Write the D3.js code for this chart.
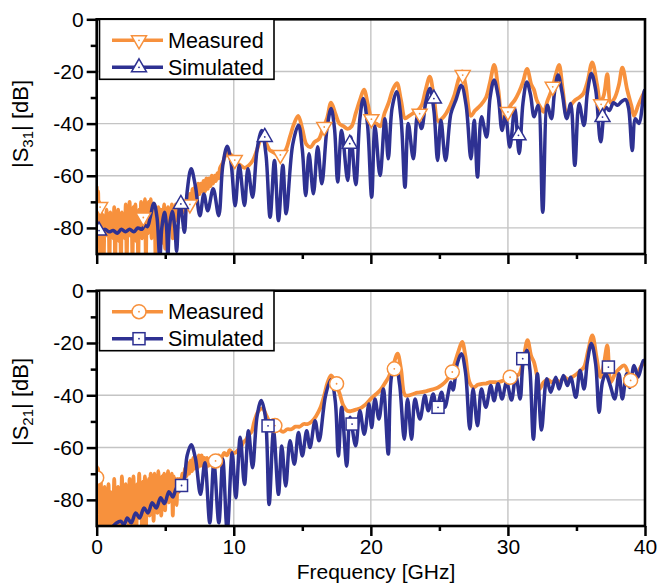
<!DOCTYPE html>
<html>
<head>
<meta charset="utf-8">
<script src="https://cdn.jsdelivr.net/npm/d3@7"></script>
<style>
  body { margin: 0; background: #fff; }
  svg text { font-family: "Liberation Sans", Arial, sans-serif; fill: #000; }
</style>
</head>
<body>
<div id="chart"></div>
<script>
// values: [frequency GHz, dB]
const s31Measured = [
  [0, -64], [0.05, -70], [0.1, -66], [0.15, -78], [0.2, -70], [0.25, -92], [0.3, -73], [0.37, -82], [0.44, -75], [0.51, -92],
  [0.58, -76], [0.65, -83], [0.72, -73], [0.79, -81], [0.86, -76], [0.93, -92], [1.0, -74], [1.07, -82], [1.14, -77], [1.21, -84],
  [1.28, -72], [1.35, -92], [1.42, -76], [1.49, -81], [1.56, -73], [1.63, -85], [1.7, -77], [1.77, -92], [1.84, -74], [1.91, -82],
  [1.98, -76], [2.05, -84], [2.12, -71], [2.19, -92], [2.26, -75], [2.33, -81], [2.4, -70], [2.47, -83], [2.54, -76], [2.61, -92],
  [2.68, -72], [2.75, -80], [2.82, -71], [2.89, -85], [2.96, -76], [3.03, -92], [3.1, -73], [3.17, -81], [3.24, -70], [3.31, -84],
  [3.38, -75], [3.45, -79], [3.52, -69], [3.59, -92], [3.66, -72], [3.73, -82], [3.8, -70], [3.87, -79], [3.94, -69], [4.01, -84],
  [4.08, -73], [4.15, -78], [4.22, -71], [4.29, -90], [4.36, -74], [4.43, -80], [4.5, -72], [4.57, -79], [4.64, -73], [4.71, -86],
  [4.78, -73], [4.85, -79], [4.92, -71], [4.99, -88], [5.06, -75], [5.13, -79], [5.2, -72], [5.27, -78], [5.34, -73], [5.41, -78],
  [5.48, -71], [5.55, -84], [5.62, -73], [5.69, -78], [5.76, -71], [5.83, -77], [5.9, -72], [5.97, -76], [6.04, -71], [6.11, -75],
  [6.2, -72], [6.3, -74], [6.4, -71], [6.5, -73], [6.6, -68], [6.7, -72], [6.8, -67], [6.9, -70], [7.0, -65], [7.1, -69],
  [7.2, -64], [7.3, -68], [7.4, -63], [7.5, -67], [7.6, -63], [7.7, -66], [7.8, -62], [7.9, -66], [8.0, -61], [8.1, -65],
  [8.2, -61], [8.3, -64], [8.4, -60], [8.5, -63], [8.6, -60], [8.7, -62], [8.8, -59], [8.9, -61], [9.0, -57], [9.2, -55],
  [9.4, -52], [9.6, -51], [9.8, -52], [10.0, -53], [10.2, -55], [10.5, -56], [10.8, -57], [11.1, -56], [11.4, -54], [11.7, -50],
  [12.0, -46], [12.3, -47], [12.6, -50], [12.9, -51], [13.2, -52], [13.5, -52], [13.8, -50], [14.1, -45], [14.4, -40], [14.7, -37],
  [15.0, -42], [15.3, -48], [15.6, -49], [15.9, -47], [16.2, -46], [16.5, -42], [16.8, -38], [17.1, -32], [17.4, -36], [17.7, -40],
  [18.0, -41], [18.3, -42], [18.6, -41], [18.9, -36], [19.2, -31], [19.5, -27], [19.8, -33], [20.1, -39], [20.4, -40], [20.7, -41],
  [21.0, -36], [21.3, -32], [21.6, -27], [21.9, -24.5], [22.2, -31], [22.5, -38], [22.8, -37], [23.1, -36], [23.4, -35], [23.7, -33],
  [24.0, -27], [24.3, -22], [24.6, -30], [24.9, -39], [25.2, -38], [25.5, -36], [25.8, -33], [26.1, -29], [26.4, -23], [26.65, -20],
  [26.9, -25], [27.3, -37], [27.6, -35], [28.0, -33], [28.4, -30], [28.7, -24], [29.0, -17.5], [29.3, -27], [29.6, -38], [29.9, -36],
  [30.2, -33], [30.5, -31], [30.8, -28], [31.1, -24], [31.4, -19], [31.7, -25], [31.9, -27], [32.1, -31], [32.4, -34], [32.6, -35.5],
  [32.9, -31], [33.2, -27], [33.5, -21], [33.73, -17.5], [34.0, -27], [34.3, -37], [34.6, -33], [34.9, -31], [35.2, -30], [35.5, -28.5],
  [35.8, -24], [36.15, -16.5], [36.5, -25], [36.75, -32], [37.0, -29], [37.25, -21], [37.5, -32], [37.8, -30], [38.1, -25], [38.35, -18.5],
  [38.7, -27], [39.0, -33], [39.2, -37], [39.5, -33], [39.75, -30], [40, -27.5]
];

const s31Simulated = [
  [0, -81], [0.3, -81.5], [0.6, -80.5], [0.9, -81.5], [1.2, -81], [1.5, -82], [1.8, -80.5], [2.1, -81.5], [2.4, -80.5], [2.7, -81.5],
  [3.0, -80], [3.3, -80.5], [3.5, -79], [3.7, -79.5], [3.9, -76], [4.17, -70.5], [4.4, -76], [4.6, -92], [4.75, -80], [4.95, -74],
  [5.1, -80], [5.19, -92], [5.3, -80], [5.51, -73.6], [5.7, -80], [5.83, -89], [5.95, -78], [6.07, -71], [6.2, -74], [6.4, -81.7],
  [6.6, -66], [6.89, -57.3], [7.2, -64], [7.53, -75.3], [7.82, -67], [8.1, -73.4], [8.5, -65], [8.9, -75.3], [9.2, -56], [9.52, -48.7],
  [9.8, -55], [10.1, -71.5], [10.4, -56], [10.78, -71.4], [11.03, -57.3], [11.37, -68.2], [11.7, -50], [12.04, -42.6], [12.35, -52], [12.65, -75.9],
  [12.97, -54.1], [13.26, -77.2], [13.58, -56], [13.82, -74.6], [14.3, -48], [14.72, -40.6], [15.0, -50], [15.25, -67.6], [15.49, -51.6], [15.81, -66.9],
  [16.12, -48.9], [16.42, -63.1], [16.8, -42], [17.1, -34.2], [17.35, -42], [17.58, -62.4], [17.87, -42.6], [18.31, -61.8], [18.55, -45.1], [18.9, -63.4],
  [19.2, -38], [19.45, -30.4], [19.75, -40], [20.06, -68.2], [20.3, -41], [20.67, -59.9], [21.03, -38.1], [21.27, -53.5], [21.55, -34], [21.88, -27.8],
  [22.2, -38], [22.49, -64.4], [22.73, -40], [23.1, -53.5], [23.41, -36.8], [23.7, -41.9], [24.0, -32], [24.31, -26.5], [24.6, -35], [24.87, -54.1],
  [25.11, -38.7], [25.45, -54.1], [25.84, -36.2], [26.2, -31], [26.6, -25.3], [26.95, -33], [27.3, -53.5], [27.54, -38.7], [27.78, -60.5], [28.07, -37.4],
  [28.44, -45.1], [28.7, -30], [28.99, -23.3], [29.3, -30], [29.57, -42.6], [29.82, -36.8], [30.14, -49], [30.5, -34.2], [30.82, -51.5], [31.1, -32],
  [31.38, -24], [31.65, -29], [31.91, -37.4], [32.2, -33], [32.54, -74], [32.88, -33], [33.17, -38.1], [33.4, -28], [33.66, -21.4], [33.95, -28],
  [34.29, -38.1], [34.58, -32.3], [34.88, -56], [35.19, -32.3], [35.55, -40.7], [35.8, -28], [36.09, -20.8], [36.4, -27], [36.77, -47], [37.13, -33.6],
  [37.4, -35], [37.7, -32], [38.0, -33], [38.3, -31.5], [38.59, -30.8], [38.8, -34], [39.07, -50.3], [39.3, -38.1], [39.55, -40], [39.93, -27.9],
  [40, -27]
];

const s21Measured = [
  [0, -67], [0.05, -74], [0.1, -68], [0.15, -85], [0.2, -70], [0.25, -92], [0.3, -73], [0.37, -86], [0.44, -76], [0.51, -92],
  [0.58, -75], [0.65, -85], [0.72, -79], [0.79, -92], [0.86, -74], [0.93, -86], [1.0, -77], [1.07, -92], [1.14, -78], [1.21, -84],
  [1.28, -72], [1.35, -92], [1.42, -80], [1.49, -87], [1.56, -75], [1.63, -92], [1.7, -78], [1.77, -85], [1.84, -71], [1.91, -92],
  [1.98, -77], [2.05, -88], [2.12, -74], [2.19, -84], [2.26, -79], [2.33, -92], [2.4, -72], [2.47, -86], [2.54, -76], [2.61, -92],
  [2.68, -71], [2.75, -83], [2.82, -77], [2.89, -92], [2.96, -74], [3.03, -87], [3.1, -70], [3.17, -84], [3.24, -76], [3.31, -92],
  [3.38, -73], [3.45, -86], [3.52, -71], [3.59, -92], [3.66, -75], [3.73, -82], [3.8, -72], [3.87, -86], [3.94, -70], [4.01, -81],
  [4.08, -74], [4.15, -88], [4.22, -70], [4.29, -80], [4.36, -73], [4.43, -85], [4.5, -69], [4.57, -79], [4.64, -72], [4.71, -86],
  [4.78, -71], [4.85, -78], [4.92, -70], [4.99, -84], [5.06, -72], [5.13, -78], [5.2, -69], [5.27, -81], [5.34, -71], [5.41, -77],
  [5.48, -70], [5.55, -86], [5.62, -71], [5.69, -78], [5.76, -72], [5.83, -82], [5.9, -72], [5.97, -77], [6.05, -72], [6.15, -75],
  [6.25, -70], [6.35, -73], [6.45, -68], [6.55, -71], [6.65, -66], [6.75, -70], [6.85, -65], [6.95, -69], [7.05, -64], [7.15, -68],
  [7.25, -64], [7.35, -68], [7.45, -63], [7.55, -67], [7.65, -63], [7.75, -67], [7.85, -64], [7.95, -68], [8.05, -64], [8.15, -67],
  [8.3, -64], [8.5, -65], [8.7, -65], [8.9, -63], [9.1, -64], [9.3, -62], [9.5, -63], [9.7, -61], [9.9, -62], [10.1, -62],
  [10.3, -61], [10.5, -60], [10.7, -58], [10.9, -57], [11.1, -55], [11.3, -54], [11.5, -50], [11.8, -46], [12.1, -45], [12.4, -48],
  [12.7, -51], [13.0, -52], [13.3, -53], [13.6, -54], [13.9, -53], [14.2, -53], [14.5, -52], [14.8, -52], [15.1, -51], [15.4, -51],
  [15.7, -50], [16.0, -48], [16.3, -45], [16.6, -40], [16.85, -35], [17.1, -32.4], [17.4, -35], [17.7, -39], [18.0, -44], [18.3, -46],
  [18.6, -46], [18.9, -45.5], [19.2, -45], [19.5, -44], [19.8, -42.5], [20.1, -40.8], [20.4, -39.5], [20.7, -38], [21.0, -35.6], [21.3, -33],
  [21.6, -29], [21.95, -24.1], [22.2, -30], [22.5, -40], [22.8, -40], [23.1, -39.5], [23.4, -39], [23.7, -38.8], [24.0, -38.5], [24.3, -38],
  [24.6, -37.6], [24.9, -37], [25.2, -36], [25.5, -34.5], [25.8, -32], [26.1, -28], [26.4, -23], [26.66, -19.6], [26.9, -25], [27.2, -35],
  [27.5, -37], [27.8, -36], [28.1, -35.6], [28.4, -35.5], [28.7, -35], [29.0, -35], [29.3, -35], [29.6, -34.5], [29.9, -34], [30.2, -33.1],
  [30.5, -32.5], [30.8, -32], [31.1, -27], [31.43, -18.9], [31.7, -25], [31.9, -27.3], [32.1, -32], [32.3, -37.6], [32.6, -35], [32.9, -34],
  [33.2, -35], [33.5, -34], [33.8, -35], [34.1, -33], [34.4, -34], [34.7, -33], [35.0, -32], [35.3, -30.5], [35.55, -29.2], [35.85, -23],
  [36.16, -17.1], [36.45, -25], [36.75, -33], [37.0, -28], [37.25, -20.9], [37.5, -35], [37.8, -32], [38.1, -30], [38.5, -28.6], [38.8, -32],
  [39.0, -34.3], [39.3, -33], [39.6, -30], [39.93, -27.3], [40, -27]
];

const s21Simulated = [
  [0, -92], [1.0, -91], [1.4, -89], [1.75, -88.2], [2.0, -89.5], [2.23, -86.9], [2.52, -88.8], [2.84, -85], [3.13, -86.9], [3.45, -83.1],
  [3.74, -85], [4.05, -81.1], [4.35, -83.1], [4.66, -79.2], [4.95, -81.4], [5.27, -76.9], [5.56, -78.9], [5.83, -75.4], [6.05, -76.5], [6.36, -72.8],
  [6.6, -63], [6.89, -58.9], [7.2, -64], [7.57, -77.9], [7.89, -65.8], [8.25, -88.8], [8.55, -65.8], [8.91, -88.8], [9.2, -64.5], [9.52, -92],
  [9.88, -62], [10.15, -79.2], [10.47, -56.1], [10.78, -74.1], [11.07, -53.6], [11.37, -67.7], [11.7, -48], [12.0, -42], [12.3, -48], [12.58, -81.8],
  [12.9, -53.6], [13.26, -77.9], [13.5, -59.4], [13.79, -74.7], [14.1, -57.4], [14.42, -66.4], [14.72, -54.2], [15.0, -63.2], [15.32, -53.6], [15.56, -60],
  [15.93, -49.7], [16.22, -57.4], [16.7, -40], [17.1, -34.1], [17.4, -42], [17.63, -63.2], [17.87, -44.6], [18.24, -67.1], [18.48, -48.4], [18.89, -59.3],
  [19.2, -45.9], [19.52, -54.9], [19.86, -43.3], [20.06, -52.3], [20.3, -41.4], [20.59, -49.1], [20.91, -37.6], [21.27, -62.5], [21.5, -33], [21.81, -27.9],
  [22.1, -36], [22.44, -56.8], [22.68, -41.4], [22.97, -56.8], [23.22, -41.4], [23.58, -49.1], [23.94, -40.1], [24.19, -45.9], [24.55, -39.5], [24.8, -45.2],
  [25.16, -38.8], [25.4, -44.6], [25.84, -35], [26.0, -38], [26.3, -28], [26.6, -24.1], [26.9, -31], [27.22, -52.9], [27.46, -37.6], [27.78, -51.7],
  [28.07, -37.6], [28.39, -44.6], [28.75, -36.3], [28.99, -42.1], [29.28, -35.6], [29.57, -41.4], [29.9, -35], [30.26, -41.8], [30.57, -32.4], [30.89, -41.4],
  [31.1, -28], [31.38, -22.8], [31.6, -30], [31.86, -56.8], [32.15, -31.8], [32.45, -53.3], [32.83, -33.7], [33.12, -38.8], [33.49, -33.1], [33.73, -37.6],
  [34.05, -32.4], [34.34, -36.3], [34.58, -33.1], [34.95, -40.8], [35.26, -30.5], [35.55, -37.6], [35.8, -27], [36.09, -20.2], [36.4, -28], [36.65, -46.5],
  [36.89, -35], [37.13, -31.8], [37.45, -36], [37.79, -41.4], [38.1, -31.8], [38.35, -41.4], [38.66, -31.8], [38.9, -37], [39.2, -28.6], [39.5, -33],
  [39.88, -26.7], [40, -27]
];

// symbol positions
const s31MeasuredMarks = [[0.25, -72], [3.4, -76], [6.8, -71], [10.07, -54], [13.4, -52], [16.6, -41.3], [20.04, -38.3], [23.56, -36.2], [26.7, -21.4], [30, -35.5], [33.27, -25.9], [36.8, -32.6]];
const s31SimulatedMarks = [[0.17, -81], [6.14, -70.8], [12.26, -45.1], [18.46, -47.7], [24.6, -30.4], [30.77, -44.5], [36.9, -37.5]];
const s21MeasuredMarks = [[0, -71.5], [8.67, -65.1], [13, -51.6], [17.5, -35.6], [21.71, -29.9], [25.94, -31.1], [30.16, -33.1], [38.95, -34.3]];
const s21SimulatedMarks = [[6.19, -74.5], [12.5, -51.7], [18.63, -51], [24.9, -44.6], [31.08, -26], [37.33, -29.2]];

const xTicks = [0, 10, 20, 30, 40];
const xMinorTicks = [5, 15, 25, 35];
const yTicks = [0, -20, -40, -60, -80];
const yMinorTicks = [-10, -30, -50, -70];
const seriesNames = ['Measured', 'Simulated'];

const orange = '#f7913d';
const blue = '#2e3192';

const svgWidth = 670, svgHeight = 584;
const left = 96.7, right = 645;

let svg = d3.select('#chart')
  .append('svg')
  .attr('width', svgWidth)
  .attr('height', svgHeight)
  .style('background', '#fff');

let xScale = d3.scaleLinear().domain([0, 40]).range([left, right]);

// draw one symbol
function drawMark(g, type, cx, cy, color) {
  let m = g.append('g').attr('transform', `translate(${cx},${cy})`);
  if (type === 'up') {
    m.append('path').attr('d', 'M0,-8.5L7.5,4.5L-7.5,4.5Z');
  } else if (type === 'down') {
    m.append('path').attr('d', 'M0,8.5L7.5,-4.5L-7.5,-4.5Z');
  } else if (type === 'circle') {
    m.append('circle').attr('r', 7);
  } else {
    m.append('rect').attr('x', -6).attr('y', -6).attr('width', 12).attr('height', 12);
  }
  m.selectAll('path,circle,rect')
    .attr('fill', '#fff')
    .attr('stroke', color)
    .attr('stroke-width', 1.5);
  m.append('circle').attr('r', 0.9).attr('fill', color);
}

function drawPanel(cfg) {
  let yScale = d3.scaleLinear().domain([-90, 0]).range([cfg.bottom, cfg.top]);
  let g = svg.append('g');

  // grid
  g.selectAll('.vgrid').data(xTicks.slice(1, -1)).enter().append('line')
    .attr('x1', d => xScale(d)).attr('x2', d => xScale(d))
    .attr('y1', cfg.top).attr('y2', cfg.bottom)
    .attr('stroke', '#c4c4c4').attr('stroke-width', 1.4);
  g.selectAll('.hgrid').data(yTicks.slice(1)).enter().append('line')
    .attr('x1', left).attr('x2', right)
    .attr('y1', d => yScale(d)).attr('y2', d => yScale(d))
    .attr('stroke', '#c4c4c4').attr('stroke-width', 1.4);

  // clip
  svg.append('clipPath').attr('id', 'clip' + cfg.id)
    .append('rect').attr('x', left).attr('y', cfg.top)
    .attr('width', right - left).attr('height', cfg.bottom - cfg.top);

  let plot = g.append('g').attr('clip-path', `url(#clip${cfg.id})`);
  let line = d3.line()
    .x(d => xScale(d[0]))
    .y(d => yScale(d[1]))
    .curve(d3.curveCatmullRom.alpha(0.5));

  plot.append('path').datum(cfg.measured)
    .attr('d', line).attr('fill', 'none')
    .attr('stroke', orange).attr('stroke-width', 3.8).attr('stroke-linejoin', 'round');
  plot.append('path').datum(cfg.simulated)
    .attr('d', line).attr('fill', 'none')
    .attr('stroke', blue).attr('stroke-width', 3.5).attr('stroke-linejoin', 'round');

  cfg.measuredMarks.forEach(d => drawMark(plot, cfg.measType, xScale(d[0]), yScale(d[1]), orange));
  cfg.simulatedMarks.forEach(d => drawMark(plot, cfg.simType, xScale(d[0]), yScale(d[1]), blue));

  // axes
  let yAxis = g.append('g').attr('transform', `translate(${left},0)`)
    .call(d3.axisLeft(yScale).tickValues(yTicks).tickSize(10).tickPadding(3).tickFormat(d => String(d)));
  let yMinor = g.append('g').attr('transform', `translate(${left},0)`)
    .call(d3.axisLeft(yScale).tickValues(yMinorTicks).tickSize(6).tickFormat(''));
  let xAxis = g.append('g').attr('transform', `translate(0,${cfg.bottom})`)
    .call(d3.axisBottom(xScale).tickValues(xTicks).tickSize(10).tickPadding(3)
      .tickFormat(cfg.xLabels ? (d => String(d)) : ''));
  let xMinor = g.append('g').attr('transform', `translate(0,${cfg.bottom})`)
    .call(d3.axisBottom(xScale).tickValues(xMinorTicks).tickSize(5).tickFormat(''));

  [yAxis, yMinor, xAxis, xMinor].forEach(a => {
    a.select('.domain').remove();
    a.selectAll('line').attr('stroke', '#000').attr('stroke-width', 2.5);
    a.selectAll('text').attr('font-size', '21px').attr('fill', '#000')
      .attr('font-family', '"Liberation Sans", Arial, sans-serif');
  });

  // frame
  g.append('rect')
    .attr('x', left).attr('y', cfg.top)
    .attr('width', right - left).attr('height', cfg.bottom - cfg.top)
    .attr('fill', 'none').attr('stroke', '#000').attr('stroke-width', 2.6);

  // y label
  let lab = g.append('text')
    .attr('transform', `translate(28,${cfg.labelY}) rotate(-90)`)
    .attr('text-anchor', 'middle')
    .attr('font-size', '22px');
  lab.append('tspan').text('|S');
  lab.append('tspan').attr('dy', 5).attr('font-size', '15px').text(cfg.sub);
  lab.append('tspan').attr('dy', -5).text('| [dB]');

  // legend
  let lg = g.append('g');
  lg.append('rect')
    .attr('x', 99.5).attr('y', cfg.top)
    .attr('width', 174.5).attr('height', 60)
    .attr('fill', '#fff').attr('stroke', '#000').attr('stroke-width', 1.6);
  seriesNames.forEach((name, i) => {
    let yy = cfg.top + 21 + i * 27;
    let col = i === 0 ? orange : blue;
    lg.append('line').attr('x1', 112).attr('x2', 163).attr('y1', yy).attr('y2', yy)
      .attr('stroke', col).attr('stroke-width', 3.4);
    drawMark(lg, i === 0 ? cfg.measType : cfg.simType, 139, yy, col);
    lg.append('text').attr('x', 168).attr('y', yy).attr('dy', '0.36em')
      .attr('font-size', '21.5px').text(name);
  });
}

drawPanel({
  id: 'top', top: 19.3, bottom: 254, xLabels: false, sub: '31', labelY: 124,
  measured: s31Measured, simulated: s31Simulated,
  measuredMarks: s31MeasuredMarks, simulatedMarks: s31SimulatedMarks,
  measType: 'down', simType: 'up'
});

drawPanel({
  id: 'bottom', top: 290.7, bottom: 526, xLabels: true, sub: '21', labelY: 402,
  measured: s21Measured, simulated: s21Simulated,
  measuredMarks: s21MeasuredMarks, simulatedMarks: s21SimulatedMarks,
  measType: 'circle', simType: 'square'
});

svg.append('text')
  .attr('x', 376).attr('y', 579)
  .attr('text-anchor', 'middle')
  .attr('font-size', '21px')
  .text('Frequency [GHz]');
</script>
</body>
</html>
